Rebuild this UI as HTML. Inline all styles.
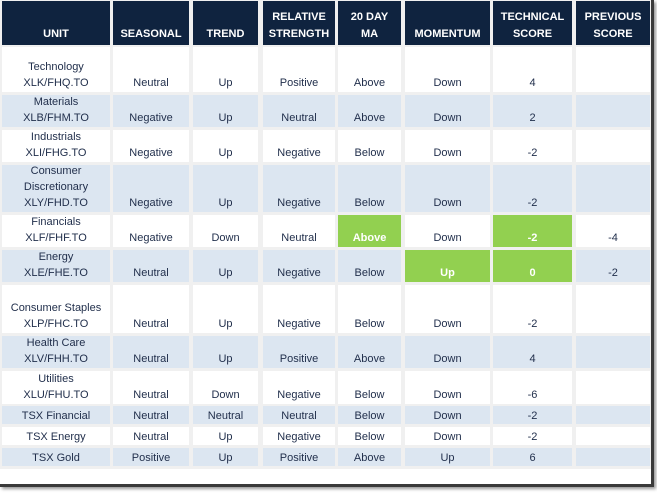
<!DOCTYPE html>
<html><head><meta charset="utf-8"><style>
html,body{margin:0;padding:0;background:#fff;width:657px;height:493px;overflow:hidden}
.frame{position:absolute;left:0;top:0;width:651px;height:484px;border-right:3px solid #3a3a3a;border-bottom:3px solid #3a3a3a;background:#fff;box-shadow:2px 2px 3px #999}
.bg{position:absolute;left:0;top:0;width:651px;height:469px;background:#f0f0f0}
.d{position:absolute;display:flex;align-items:flex-end;justify-content:center;text-align:center;font-family:"Liberation Sans",sans-serif;font-size:11px;color:#1f2d4a;line-height:16px;background:#fff;white-space:nowrap;padding-bottom:1px;box-sizing:border-box}
.h{background:#0f233f;color:#fff;font-weight:bold;line-height:17px;padding-bottom:2px}
.a{background:#dce6f1}
.g{background:#92d050;color:#fff;font-weight:bold}
.c0{left:2px;width:108px}.c1{left:113px;width:76px}.c2{left:193px;width:65px}.c3{left:263px;width:72px}
.c4{left:338px;width:63px}.c5{left:405px;width:85px}.c6{left:493px;width:79px}.c7{left:576px;width:74px}
.r0{top:1px;height:44px}.r1{top:47px;height:45px}.r2{top:95px;height:32px}.r3{top:130px;height:32px}
.r4{top:165px;height:47px}.r5{top:215px;height:32px}.r6{top:250px;height:32px}.r7{top:285px;height:48px}
.r8{top:336px;height:32px}.r9{top:371px;height:33px}.r10{top:406px;height:18px}.r11{top:427px;height:18px}.r12{top:448px;height:18px}
.r10,.r11,.r12{padding-bottom:0}
</style></head><body>
<div class="frame"><div class="bg"></div>
<div class="d h r0 c0">UNIT</div><div class="d h r0 c1">SEASONAL</div><div class="d h r0 c2">TREND</div><div class="d h r0 c3">RELATIVE<br>STRENGTH</div><div class="d h r0 c4">20 DAY<br>MA</div><div class="d h r0 c5">MOMENTUM</div><div class="d h r0 c6">TECHNICAL<br>SCORE</div><div class="d h r0 c7">PREVIOUS<br>SCORE</div>

<div class="d r1 c0">Technology<br>XLK/FHQ.TO</div><div class="d r1 c1">Neutral</div><div class="d r1 c2">Up</div><div class="d r1 c3">Positive</div><div class="d r1 c4">Above</div><div class="d r1 c5">Down</div><div class="d r1 c6">4</div><div class="d r1 c7"></div>

<div class="d a r2 c0">Materials<br>XLB/FHM.TO</div><div class="d a r2 c1">Negative</div><div class="d a r2 c2">Up</div><div class="d a r2 c3">Neutral</div><div class="d a r2 c4">Above</div><div class="d a r2 c5">Down</div><div class="d a r2 c6">2</div><div class="d a r2 c7"></div>

<div class="d r3 c0">Industrials<br>XLI/FHG.TO</div><div class="d r3 c1">Negative</div><div class="d r3 c2">Up</div><div class="d r3 c3">Negative</div><div class="d r3 c4">Below</div><div class="d r3 c5">Down</div><div class="d r3 c6">-2</div><div class="d r3 c7"></div>

<div class="d a r4 c0">Consumer<br>Discretionary<br>XLY/FHD.TO</div><div class="d a r4 c1">Negative</div><div class="d a r4 c2">Up</div><div class="d a r4 c3">Negative</div><div class="d a r4 c4">Below</div><div class="d a r4 c5">Down</div><div class="d a r4 c6">-2</div><div class="d a r4 c7"></div>

<div class="d r5 c0">Financials<br>XLF/FHF.TO</div><div class="d r5 c1">Negative</div><div class="d r5 c2">Down</div><div class="d r5 c3">Neutral</div><div class="d g r5 c4">Above</div><div class="d r5 c5">Down</div><div class="d g r5 c6">-2</div><div class="d r5 c7">-4</div>

<div class="d a r6 c0">Energy<br>XLE/FHE.TO</div><div class="d a r6 c1">Neutral</div><div class="d a r6 c2">Up</div><div class="d a r6 c3">Negative</div><div class="d a r6 c4">Below</div><div class="d g r6 c5">Up</div><div class="d g r6 c6">0</div><div class="d a r6 c7">-2</div>

<div class="d r7 c0">Consumer Staples<br>XLP/FHC.TO</div><div class="d r7 c1">Neutral</div><div class="d r7 c2">Up</div><div class="d r7 c3">Negative</div><div class="d r7 c4">Below</div><div class="d r7 c5">Down</div><div class="d r7 c6">-2</div><div class="d r7 c7"></div>

<div class="d a r8 c0">Health Care<br>XLV/FHH.TO</div><div class="d a r8 c1">Neutral</div><div class="d a r8 c2">Up</div><div class="d a r8 c3">Positive</div><div class="d a r8 c4">Above</div><div class="d a r8 c5">Down</div><div class="d a r8 c6">4</div><div class="d a r8 c7"></div>

<div class="d r9 c0">Utilities<br>XLU/FHU.TO</div><div class="d r9 c1">Neutral</div><div class="d r9 c2">Down</div><div class="d r9 c3">Negative</div><div class="d r9 c4">Below</div><div class="d r9 c5">Down</div><div class="d r9 c6">-6</div><div class="d r9 c7"></div>

<div class="d a r10 c0">TSX Financial</div><div class="d a r10 c1">Neutral</div><div class="d a r10 c2">Neutral</div><div class="d a r10 c3">Neutral</div><div class="d a r10 c4">Below</div><div class="d a r10 c5">Down</div><div class="d a r10 c6">-2</div><div class="d a r10 c7"></div>

<div class="d r11 c0">TSX Energy</div><div class="d r11 c1">Neutral</div><div class="d r11 c2">Up</div><div class="d r11 c3">Negative</div><div class="d r11 c4">Below</div><div class="d r11 c5">Down</div><div class="d r11 c6">-2</div><div class="d r11 c7"></div>

<div class="d a r12 c0">TSX Gold</div><div class="d a r12 c1">Positive</div><div class="d a r12 c2">Up</div><div class="d a r12 c3">Positive</div><div class="d a r12 c4">Above</div><div class="d a r12 c5">Up</div><div class="d a r12 c6">6</div><div class="d a r12 c7"></div>
</div>
</body></html>
